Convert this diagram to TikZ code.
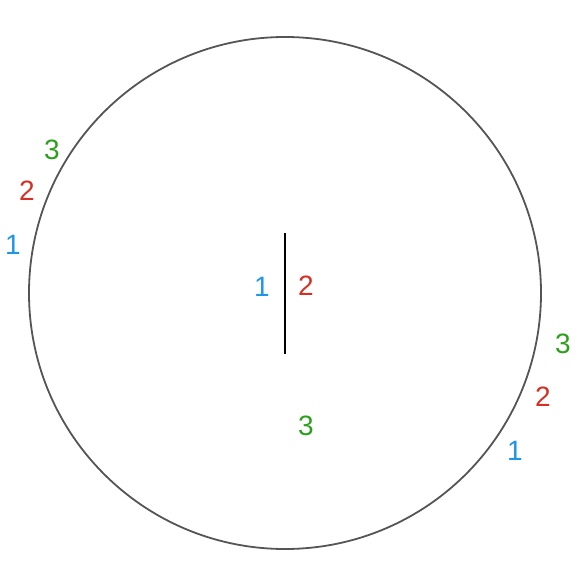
\documentclass[tikz,border=0pt]{standalone}
\usepackage{fontspec}
\setmainfont{Liberation Sans}
\usetikzlibrary{positioning}
\definecolor{lblue}{RGB}{30,150,230}
\definecolor{lred}{RGB}{212,48,36}
\definecolor{lgreen}{RGB}{44,160,28}
\definecolor{ringgray}{RGB}{85,85,85}
\begin{document}
\begin{tikzpicture}[x=1pt,y=-1pt,
    lab/.style={inner sep=0pt,font=\fontsize{28}{32}\selectfont}]
    \useasboundingbox (0,0) rectangle (585,585);

    \node[circle,draw=ringgray,line width=1.8pt,minimum size=512pt,inner sep=0pt] (ring) at (285,293) {};

    \coordinate (cuttop) at (285,233);
    \coordinate (cutbot) at (285,354);
    \draw[line width=1.8pt] (cuttop) -- (cutbot);

    % inner labels
    \node[lab,text=lblue] (in1) at (262,287) {1};
    \node[lab,text=lred] (in2) at (306,286) {2};
    \node[lab,text=lgreen] (in3) at (306,426) {3};

    % left labels
    \node[lab,text=lgreen] (left3) at (52,150) {3};
    \node[lab,text=lred] (left2) at (27,191) {2};
    \node[lab,text=lblue] (left1) at (13,245) {1};

    % right labels
    \node[lab,text=lgreen] (right3) at (563,344) {3};
    \node[lab,text=lred] (right2) at (543,397) {2};
    \node[lab,text=lblue] (right1) at (515,451) {1};
\end{tikzpicture}
\end{document}
